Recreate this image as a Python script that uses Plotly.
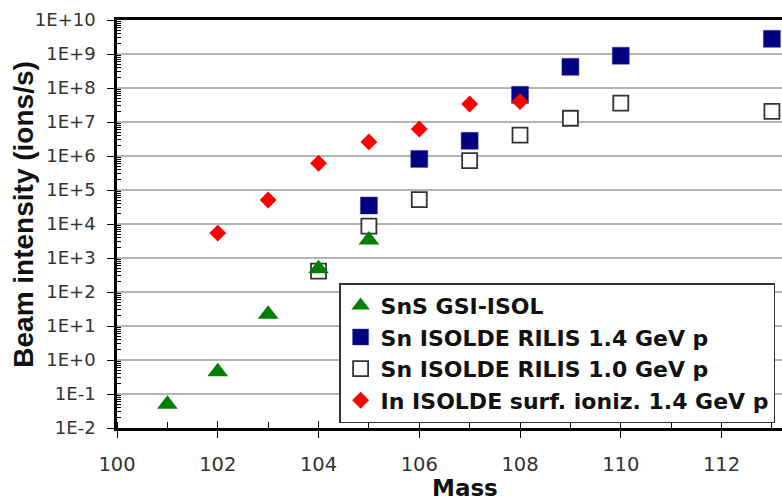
import plotly.graph_objects as go

# Data
mass_gsi = [101, 102, 103, 104, 105]
int_gsi = [0.05, 0.45, 22, 480, 3400]

mass_r14 = [105, 106, 107, 108, 109, 110, 113]
int_r14 = [3.5e4, 8.2e5, 2.8e6, 6.3e7, 4.2e8, 8.9e8, 2.8e9]

mass_r10 = [104, 105, 106, 107, 108, 109, 110, 113]
int_r10 = [410, 8700, 5.2e4, 7.3e5, 4.1e6, 1.29e7, 3.6e7, 2.05e7]

mass_in = [102, 103, 104, 105, 106, 107, 108]
int_in = [5400, 5.1e4, 6.1e5, 2.6e6, 6.2e6, 3.4e7, 4.0e7]

x_ticks = [100, 102, 104, 106, 108, 110, 112]
y_tickvals = [10 ** e for e in range(-2, 11)]
y_ticktext = ["1E-2", "1E-1", "1E+0", "1E+1", "1E+2", "1E+3", "1E+4",
              "1E+5", "1E+6", "1E+7", "1E+8", "1E+9", "1E+10"]
y_minor = [k * 10 ** e for e in range(-2, 10) for k in range(2, 10)]

FONT = "DejaVu Sans, sans-serif"
FONT_Y = "Liberation Sans, Arial, sans-serif"

fig = go.Figure()
# drawing order: blue, open, red, green (legend order set by legendrank)
fig.add_trace(go.Scatter(x=mass_r14, y=int_r14, mode="markers", name="Sn ISOLDE RILIS 1.4 GeV p",
                         legendrank=2,
                         marker=dict(symbol="square", size=17, color="#000080",
                                     line=dict(color="#3a3a9a", width=0.5))))
fig.add_trace(go.Scatter(x=mass_r10, y=int_r10, mode="markers", name="Sn ISOLDE RILIS 1.0 GeV p",
                         legendrank=3,
                         marker=dict(symbol="square", size=15, color="white",
                                     line=dict(color="#333333", width=1.8))))
fig.add_trace(go.Scatter(x=mass_in, y=int_in, mode="markers", name="In ISOLDE surf. ioniz. 1.4 GeV p",
                         legendrank=4,
                         marker=dict(symbol="diamond", size=13, color="#ff0000")))
fig.add_trace(go.Scatter(x=mass_gsi, y=int_gsi, mode="markers", name="SnS GSI-ISOL",
                         legendrank=1,
                         marker=dict(symbol="triangle-up", size=18, color="#008000")))
# empty trace only to carry the overlay axis that draws the inner half of the major x ticks
fig.add_trace(go.Scatter(x=[], y=[], xaxis="x2", yaxis="y", showlegend=False, hoverinfo="skip"))

fig.update_layout(
    width=782, height=501,
    margin=dict(l=117, r=0, t=20, b=73, autoexpand=False),
    paper_bgcolor="white", plot_bgcolor="white",
    font=dict(family=FONT, color="#222222"),
    showlegend=True,
    legend=dict(x=0.334, y=0.355, xanchor="left", yanchor="top",
                bgcolor="white", bordercolor="#333333", borderwidth=1.5,
                font=dict(family=FONT, size=22, color="#111111", weight="bold"),
                tracegroupgap=0, itemsizing="trace", traceorder="normal"),
    xaxis=dict(range=[100, 113.2], tickvals=x_ticks, showgrid=False, zeroline=False,
               showline=True, linecolor="black", linewidth=2.5, mirror=True,
               ticks="outside", ticklen=7, tickwidth=1.2, tickcolor="black",
               ticklabelstandoff=10,
               tickfont=dict(family=FONT, size=19.5, color="#333333"),
               minor=dict(dtick=1, tick0=100, ticks="inside", ticklen=6, tickwidth=1.2,
                          tickcolor="black", showgrid=False)),
    xaxis2=dict(overlaying="x", matches="x", anchor="y", side="bottom",
                tickvals=x_ticks, showticklabels=False, showgrid=False, zeroline=False,
                showline=False, ticks="inside", ticklen=7, tickwidth=1.2, tickcolor="black"),
    yaxis=dict(type="log", range=[-2, 10], tickvals=y_tickvals, ticktext=y_ticktext,
               showgrid=True, gridcolor="#b4b4b4", gridwidth=1.5, zeroline=False,
               showline=True, linecolor="black", linewidth=2.5,
               ticks="outside", ticklen=7, tickwidth=1.2, tickcolor="black",
               ticklabelstandoff=8,
               tickfont=dict(family=FONT, size=18, color="#333333"),
               minor=dict(tickmode="array", tickvals=y_minor, ticks="inside", ticklen=4,
                          tickwidth=1, tickcolor="black", showgrid=False)),
    annotations=[
        dict(text="Mass", xref="paper", yref="paper", x=0.523, y=-0.147,
             xanchor="center", yanchor="middle", showarrow=False,
             font=dict(family=FONT, size=23, color="#111111", weight="bold")),
        dict(text="Beam intensity (ions/s)", xref="paper", yref="paper", x=-0.14, y=0.525,
             xanchor="center", yanchor="middle", showarrow=False, textangle=-90,
             font=dict(family=FONT_Y, size=28, color="#111111", weight="bold")),
    ],
)

fig.write_html("out.html")
